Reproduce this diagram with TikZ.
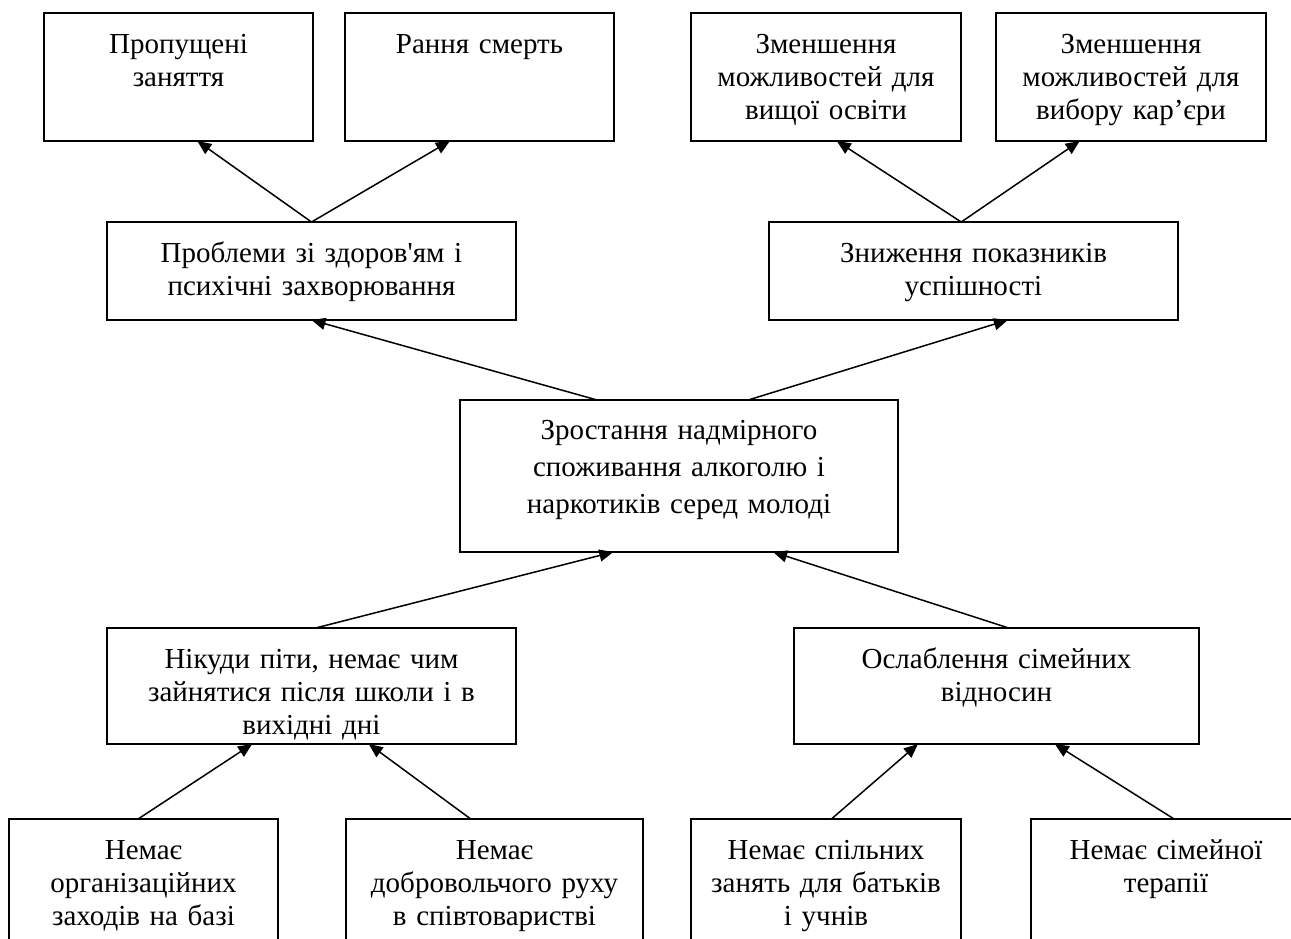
\documentclass[tikz,border=0pt]{standalone}
\usepackage{fontspec}
\setmainfont{Liberation Serif}[Ligatures=TeXOff]
\usetikzlibrary{arrows.meta,calc}
\begin{document}
\begin{tikzpicture}[x=1pt,y=-1pt,
  box/.style={draw, line width=1.5pt, inner sep=0pt, outer sep=0pt, anchor=north west},
  lbl/.style={anchor=north, inner sep=0pt, outer sep=0pt, align=center, font=\fontsize{29}{33.3}\selectfont, yshift=-16.7pt},
  lblc/.style={anchor=north, inner sep=0pt, outer sep=0pt, align=center, font=\fontsize{29}{36.7}\selectfont, yshift=-14.3pt},
  arr/.style={line width=1.5pt, -{Triangle[length=14pt,width=12pt]}}]
\useasboundingbox (0,0) rectangle (1291,938);
\clip (0,0) rectangle (1291,938);
% top row
\node[box, minimum width=269pt, minimum height=128pt] (A1) at (44,13) {};
\node[lbl, text width=269pt] (A1t) at (A1.north) {\strut Пропущені\\заняття};
\node[box, minimum width=269pt, minimum height=128pt] (A2) at (345,13) {};
\node[lbl, text width=269pt] (A2t) at (A2.north) {\strut Рання смерть};
\node[box, minimum width=270pt, minimum height=128pt] (A3) at (691,13) {};
\node[lbl, text width=270pt] (A3t) at (A3.north) {\strut Зменшення\\можливостей для\\вищої освіти};
\node[box, minimum width=270pt, minimum height=128pt] (A4) at (996,13) {};
\node[lbl, text width=270pt] (A4t) at (A4.north) {\strut Зменшення\\можливостей для\\вибору кар’єри};
% second row
\node[box, minimum width=409pt, minimum height=98pt] (B1) at (107,222) {};
\node[lbl, text width=409pt] (B1t) at (B1.north) {\strut Проблеми зі здоров'ям і\\психічні захворювання};
\node[box, minimum width=409pt, minimum height=98pt] (B2) at (769,222) {};
\node[lbl, text width=409pt] (B2t) at (B2.north) {\strut Зниження показників\\успішності};
% center
\node[box, minimum width=438pt, minimum height=152pt] (C) at (460,400) {};
\node[lblc, text width=438pt] (Ct) at (C.north) {\strut Зростання надмірного\\споживання алкоголю і\\наркотиків серед молоді};
% fourth row
\node[box, minimum width=409pt, minimum height=116pt] (D1) at (107,628) {};
\node[lbl, text width=409pt] (D1t) at (D1.north) {\strut Нікуди піти, немає чим\\зайнятися після школи і в\\вихідні дні};
\node[box, minimum width=405pt, minimum height=116pt] (D2) at (794,628) {};
\node[lbl, text width=405pt] (D2t) at (D2.north) {\strut Ослаблення сімейних\\відносин};
% bottom row
\node[box, minimum width=269pt, minimum height=140pt] (E1) at (9,819) {};
\node[lbl, text width=269pt] (E1t) at (E1.north) {\strut Немає\\організаційних\\заходів на базі};
\node[box, minimum width=297pt, minimum height=140pt] (E2) at (346,819) {};
\node[lbl, text width=297pt] (E2t) at (E2.north) {\strut Немає\\добровольчого руху\\в співтоваристві};
\node[box, minimum width=270pt, minimum height=140pt] (E3) at (691,819) {};
\node[lbl, text width=270pt] (E3t) at (E3.north) {\strut Немає спільних\\занять для батьків\\і учнів};
\node[box, minimum width=270pt, minimum height=140pt] (E4) at (1031,819) {};
\node[lbl, text width=270pt] (E4t) at (E4.north) {\strut Немає сімейної\\терапії};
% connectors
\draw[arr] ($(B1.north west)!0.5!(B1.north east)$) -- ($(A1.south west)!0.57!(A1.south east)$);
\draw[arr] ($(B1.north west)!0.5!(B1.north east)$) -- ($(A2.south west)!0.39!(A2.south east)$);
\draw[arr] ($(B2.north west)!0.47!(B2.north east)$) -- ($(A3.south west)!0.54!(A3.south east)$);
\draw[arr] ($(B2.north west)!0.47!(B2.north east)$) -- ($(A4.south west)!0.31!(A4.south east)$);
\draw[arr] ($(C.north west)!0.313!(C.north east)$) -- ($(B1.south west)!0.5!(B1.south east)$);
\draw[arr] ($(C.north west)!0.658!(C.north east)$) -- ($(B2.south west)!0.584!(B2.south east)$);
\draw[arr] ($(D1.north west)!0.51!(D1.north east)$) -- ($(C.south west)!0.35!(C.south east)$);
\draw[arr] ($(D2.north west)!0.53!(D2.north east)$) -- ($(C.south west)!0.715!(C.south east)$);
\draw[arr] ($(E1.north west)!0.48!(E1.north east)$) -- ($(D1.south west)!0.355!(D1.south east)$);
\draw[arr] ($(E2.north west)!0.42!(E2.north east)$) -- ($(D1.south west)!0.64!(D1.south east)$);
\draw[arr] ($(E3.north west)!0.52!(E3.north east)$) -- ($(D2.south west)!0.306!(D2.south east)$);
\draw[arr] ($(E4.north west)!0.53!(E4.north east)$) -- ($(D2.south west)!0.644!(D2.south east)$);
\end{tikzpicture}
\end{document}
